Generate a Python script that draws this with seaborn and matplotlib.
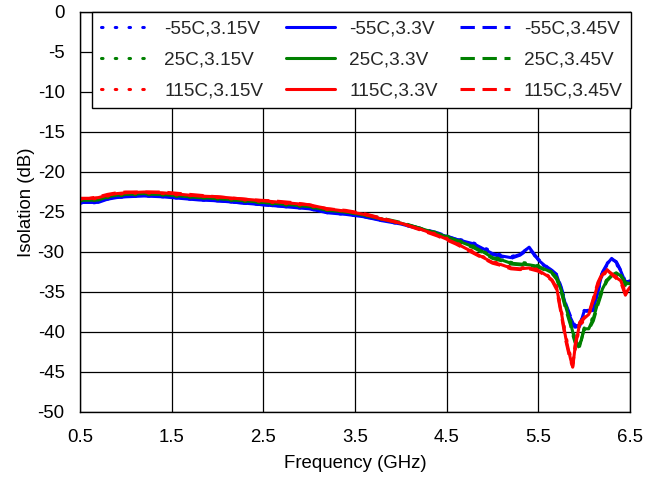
import matplotlib
matplotlib.use("Agg")
import matplotlib.pyplot as plt
import seaborn as sns
import pandas as pd
from matplotlib.lines import Line2D

freq = [0.5, 0.6, 0.7, 0.8, 0.9, 1.0, 1.2, 1.4, 1.6, 1.8, 2.0, 2.2, 2.4, 2.6, 2.8, 3.0,
        3.2, 3.4, 3.6, 3.8, 4.0, 4.2, 4.4, 4.6, 4.8, 4.9, 5.0, 5.1, 5.2, 5.3, 5.4, 5.5,
        5.6, 5.65, 5.7, 5.75, 5.8, 5.85, 5.875, 5.9, 5.95, 6.0, 6.05, 6.1, 6.15, 6.2,
        6.25, 6.3, 6.35, 6.4, 6.45, 6.5]

m55_315 = [-23.9, -23.9, -23.8, -23.4, -23.2, -23.1, -23.0, -23.1, -23.3, -23.5, -23.6, -23.8, -24.0,
           -24.2, -24.4, -24.6, -25.1, -25.3, -25.6, -26.1, -26.5, -27.1, -27.7, -28.3, -28.9, -29.4,
           -30.0, -30.4, -30.6, -30.2, -29.5, -31.1, -32.1, -32.5, -33.0, -34.8, -36.9, -38.4, -39.0,
           -39.6, -39.4, -37.6, -37.2, -37.0, -34.6, -32.4, -31.4, -30.9, -31.4, -32.6, -34.0, -33.5]
m55_330 = [-23.8, -23.8, -23.8, -23.4, -23.2, -23.1, -23.0, -23.1, -23.3, -23.5, -23.6, -23.8, -24.0,
           -24.2, -24.4, -24.6, -25.1, -25.3, -25.6, -26.1, -26.5, -27.1, -27.7, -28.4, -29.0, -29.6,
           -30.2, -30.5, -30.7, -30.3, -29.4, -31.0, -32.0, -32.4, -32.9, -34.6, -36.7, -38.2, -38.8,
           -39.4, -39.3, -37.4, -37.3, -37.2, -34.8, -32.5, -31.5, -30.8, -31.3, -32.4, -33.8, -33.6]
m55_345 = [-23.8, -23.8, -23.7, -23.3, -23.1, -23.0, -22.9, -23.0, -23.2, -23.4, -23.6, -23.8, -24.0,
           -24.2, -24.3, -24.5, -25.0, -25.2, -25.6, -26.0, -26.4, -27.0, -27.6, -28.4, -29.1, -29.7,
           -30.3, -30.6, -30.8, -30.4, -29.6, -30.9, -31.9, -32.3, -32.8, -34.4, -36.5, -38.0, -38.6,
           -39.2, -39.2, -37.3, -37.4, -37.3, -35.0, -32.7, -31.6, -30.9, -31.2, -32.3, -33.7, -33.7]

p25_315 = [-23.6, -23.6, -23.5, -23.2, -23.0, -22.9, -22.8, -22.9, -23.1, -23.2, -23.4, -23.6, -23.8,
           -24.0, -24.2, -24.4, -24.8, -25.0, -25.4, -25.9, -26.4, -27.0, -27.6, -28.4, -29.3, -29.9,
           -30.6, -30.9, -31.3, -31.3, -31.4, -31.7, -32.2, -32.5, -33.1, -34.6, -36.6, -38.5, -39.7,
           -40.8, -41.6, -39.7, -39.4, -38.0, -36.0, -34.4, -33.4, -32.8, -32.7, -33.2, -34.2, -33.8]
p25_330 = [-23.5, -23.5, -23.5, -23.1, -22.9, -22.8, -22.7, -22.8, -23.0, -23.2, -23.3, -23.5, -23.7,
           -23.9, -24.1, -24.3, -24.8, -25.0, -25.4, -25.9, -26.4, -27.0, -27.7, -28.5, -29.4, -30.0,
           -30.7, -31.0, -31.4, -31.5, -31.6, -31.8, -32.3, -32.6, -33.2, -34.8, -36.9, -38.8, -40.0,
           -41.0, -41.8, -39.6, -39.6, -38.3, -36.3, -34.6, -33.5, -32.9, -32.6, -33.0, -34.0, -33.9]
p25_345 = [-23.5, -23.5, -23.4, -23.0, -22.8, -22.7, -22.7, -22.8, -22.9, -23.1, -23.3, -23.5, -23.7,
           -23.9, -24.0, -24.3, -24.7, -25.0, -25.3, -25.8, -26.3, -27.0, -27.7, -28.6, -29.5, -30.1,
           -30.8, -31.1, -31.5, -31.6, -31.7, -31.9, -32.4, -32.7, -33.4, -35.0, -37.2, -39.1, -40.3,
           -41.3, -42.0, -39.5, -39.7, -38.6, -36.6, -34.8, -33.6, -33.0, -32.5, -32.9, -33.8, -34.0]

p115_315 = [-23.4, -23.4, -23.3, -23.0, -22.8, -22.7, -22.6, -22.7, -22.9, -23.0, -23.2, -23.4, -23.6,
            -23.8, -24.0, -24.2, -24.7, -24.9, -25.3, -25.9, -26.4, -27.1, -27.8, -28.8, -30.0, -30.6,
            -31.2, -31.5, -31.9, -32.0, -31.9, -32.2, -32.9, -33.4, -34.3, -37.2, -40.5, -43.0, -44.1,
            -42.3, -39.3, -38.5, -37.9, -36.2, -34.2, -33.0, -32.4, -32.6, -33.1, -33.5, -35.0, -34.5]
p115_330 = [-23.3, -23.3, -23.2, -22.9, -22.7, -22.6, -22.5, -22.6, -22.8, -23.0, -23.1, -23.3, -23.5,
            -23.7, -23.9, -24.1, -24.6, -24.9, -25.3, -25.9, -26.4, -27.1, -27.9, -28.9, -30.1, -30.7,
            -31.3, -31.6, -32.0, -32.1, -32.0, -32.3, -33.0, -33.5, -34.5, -37.5, -40.8, -43.3, -44.4,
            -42.0, -39.0, -38.3, -37.8, -36.0, -34.0, -32.8, -32.3, -32.7, -33.2, -33.6, -35.2, -34.4]
p115_345 = [-23.3, -23.3, -23.1, -22.8, -22.6, -22.5, -22.5, -22.5, -22.7, -22.9, -23.1, -23.3, -23.5,
            -23.6, -23.8, -24.1, -24.6, -24.8, -25.2, -25.8, -26.4, -27.2, -28.0, -29.0, -30.2, -30.8,
            -31.4, -31.7, -32.1, -32.2, -32.1, -32.4, -33.1, -33.6, -34.7, -37.8, -41.1, -43.6, -44.3,
            -41.7, -38.8, -38.2, -37.7, -35.8, -33.8, -32.6, -32.2, -32.8, -33.3, -33.8, -35.4, -34.3]

temps = ["-55C", "25C", "115C"]
volts = ["3.15V", "3.3V", "3.45V"]
series = {
    ("-55C", "3.15V"): m55_315, ("-55C", "3.3V"): m55_330, ("-55C", "3.45V"): m55_345,
    ("25C", "3.15V"): p25_315, ("25C", "3.3V"): p25_330, ("25C", "3.45V"): p25_345,
    ("115C", "3.15V"): p115_315, ("115C", "3.3V"): p115_330, ("115C", "3.45V"): p115_345,
}
for k, v in series.items():
    assert len(v) == len(freq), (k, len(v))

colors = {"-55C": "#0000FF", "25C": "#008000", "115C": "#FF0000"}
styles = {"3.15V": (0, (0.5, 4.0)), "3.3V": "-", "3.45V": (0, (4.7, 2.5))}

sns.set_style("white")
plt.rcParams["font.family"] = ["Liberation Sans", "DejaVu Sans"]
plt.rcParams["axes.unicode_minus"] = False

fig = plt.figure(figsize=(6.56, 4.79), dpi=100)
ax = fig.add_axes([80 / 656, 1 - 412 / 479, 550 / 656, 400 / 479])

lw = 2.2
for t in temps:
    for v in ["3.15V", "3.45V", "3.3V"]:
        df = pd.DataFrame({"freq": freq, "val": series[(t, v)]})
        sns.lineplot(data=df, x="freq", y="val", ax=ax, color=colors[t],
                     linestyle=styles[v], linewidth=lw, sort=False, estimator=None,
                     dash_capstyle="round" if v == "3.15V" else "butt")

ax.set_xlim(0.5, 6.5)
ax.set_ylim(-50, 0)
ax.set_xticks([0.5, 1.5, 2.5, 3.5, 4.5, 5.5, 6.5])
ax.set_xticklabels(["0.5", "1.5", "2.5", "3.5", "4.5", "5.5", "6.5"])
ax.set_yticks(list(range(-50, 1, 5)))
ax.set_yticklabels([str(v) for v in range(-50, 1, 5)])
ax.grid(True, color="#000000", linewidth=0.9)
ax.set_axisbelow(True)
for s in ax.spines.values():
    s.set_visible(True)
    s.set_color("#000000")
    s.set_linewidth(1.0)
fs = 13.4
ax.tick_params(axis="both", length=0, labelsize=fs, colors="#000000")
ax.tick_params(axis="y", pad=11)
ax.tick_params(axis="x", pad=12)
ax.set_xlabel("Frequency (GHz)", fontsize=fs, color="#000000")
ax.set_ylabel("Isolation (dB)", fontsize=fs, color="#000000")
ax.xaxis.set_label_coords(0.5, -0.108)
ax.yaxis.set_label_coords(-0.082, 0.525)

handles, labels = [], []
for v in volts:
    for t in temps:
        handles.append(Line2D([0], [0], color=colors[t], linestyle=styles[v], linewidth=lw,
                              dash_capstyle="round" if v == "3.15V" else "butt"))
        labels.append(f"{t},{v}")
leg = ax.legend(handles, labels, ncol=3, loc="upper left",
                bbox_to_anchor=(12 / 550, 1.0), borderaxespad=0.0,
                fontsize=13.7, frameon=True, fancybox=False, framealpha=1.0,
                edgecolor="#000000", handlelength=2.6, handletextpad=0.74,
                columnspacing=1.18, labelspacing=0.72, borderpad=0.45)
leg.get_frame().set_linewidth(1.0)

fig.savefig("out.png", dpi=100)
